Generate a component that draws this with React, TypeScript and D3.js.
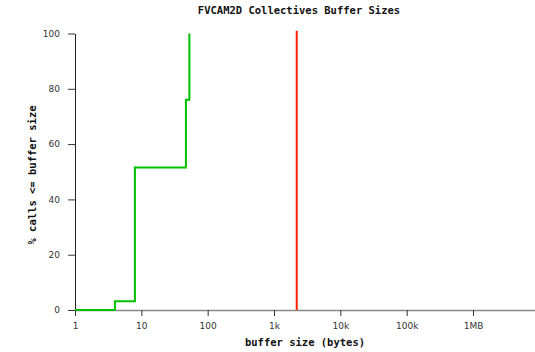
import { useRef, useEffect } from 'react';
import * as d3 from 'd3';

const title = 'FVCAM2D Collectives Buffer Sizes';
const xTitle = 'buffer size (bytes)';
const yTitle = '% calls <= buffer size';

// cumulative distribution of buffer sizes (green)
const cdfSizes = [1, 4, 8, 47, 53];
const cdfPercent = [0, 3.2, 51.5, 76, 100];

// single size marker (red)
const markerSizes = [2200, 2200];
const markerPercent = [0, 101];

const xTicks = [1, 10, 100, 1e3, 1e4, 1e5, 1e6];
const xTickLabels = ['1', '10', '100', '1k', '10k', '100k', '1MB'];
const yTicks = [0, 20, 40, 60, 80, 100];

export default function App() {
  const svgRef = useRef<SVGSVGElement>(null);

  useEffect(() => {
    if (!svgRef.current) return;
    const svg = d3.select(svgRef.current);
    svg.selectAll('*').remove();

    const width = 535;
    const height = 352;
    const margin = { top: 33.5, right: 0, bottom: 42, left: 75 };
    const innerH = height - margin.top - margin.bottom;

    const xScale = d3.scaleLog().domain([1, 8.6e6]).range([margin.left, width - margin.right]);
    const yScale = d3.scaleLinear().domain([0, 100]).range([margin.top + innerH, margin.top]);

    svg.append('rect').attr('width', width).attr('height', height).attr('fill', '#fff');

    const tickFont = 'DejaVu Sans, sans-serif';
    const boldFont = 'DejaVu Sans Mono, monospace';

    // x axis
    const xAxis = svg.append('g')
      .attr('transform', `translate(0,${yScale(0)})`)
      .call(d3.axisBottom(xScale).tickValues(xTicks).tickSize(6).tickSizeOuter(0)
        .tickFormat((_, i) => xTickLabels[i]));
    xAxis.select('.domain').attr('stroke', '#888').attr('stroke-width', 1.5);
    xAxis.selectAll('.tick line').attr('stroke', '#333');
    xAxis.selectAll('.tick text').attr('fill', '#333').attr('dy', '1.1em')
      .style('font-family', tickFont).style('font-size', '9px');

    // y axis
    const yAxis = svg.append('g')
      .attr('transform', `translate(${margin.left},0)`)
      .call(d3.axisLeft(yScale).tickValues(yTicks).tickSize(7).tickSizeOuter(0).tickPadding(8));
    yAxis.select('.domain').attr('stroke', '#222').attr('stroke-width', 1);
    yAxis.selectAll('.tick line').attr('stroke', '#333');
    yAxis.selectAll('.tick text').attr('fill', '#333')
      .style('font-family', tickFont).style('font-size', '9px');

    // cdf step line
    const pts = cdfSizes.map((s, i) => [s, cdfPercent[i]] as [number, number]);
    const stepLine = d3.line<[number, number]>()
      .x((d) => xScale(d[0]))
      .y((d) => yScale(d[1]))
      .curve(d3.curveStepAfter);
    svg.append('path')
      .datum(pts)
      .attr('d', stepLine)
      .attr('fill', 'none')
      .attr('stroke', '#00c000')
      .attr('stroke-width', 2);

    // red marker
    const mpts = markerSizes.map((s, i) => [s, markerPercent[i]] as [number, number]);
    svg.append('path')
      .datum(mpts)
      .attr('d', d3.line<[number, number]>().x((d) => xScale(d[0])).y((d) => yScale(d[1])))
      .attr('fill', 'none')
      .attr('stroke', '#ff2000')
      .attr('stroke-width', 2);

    // titles
    svg.append('text')
      .attr('x', 299).attr('y', 14)
      .attr('text-anchor', 'middle')
      .style('font-family', boldFont).style('font-weight', 'bold').style('font-size', '10.5px')
      .attr('fill', '#111')
      .text(title);

    svg.append('text')
      .attr('x', 305).attr('y', 346)
      .attr('text-anchor', 'middle')
      .style('font-family', boldFont).style('font-weight', 'bold').style('font-size', '10.5px')
      .attr('fill', '#111')
      .text(xTitle);

    svg.append('text')
      .attr('transform', `translate(36, 175) rotate(-90)`)
      .attr('text-anchor', 'middle')
      .style('font-family', boldFont).style('font-weight', 'bold').style('font-size', '10.5px')
      .attr('fill', '#111')
      .text(yTitle);
  }, []);

  return (
    <svg
      ref={svgRef}
      width={535}
      height={352}
      style={{ position: 'absolute', left: 0, top: 0, display: 'block' }}
    />
  );
}
